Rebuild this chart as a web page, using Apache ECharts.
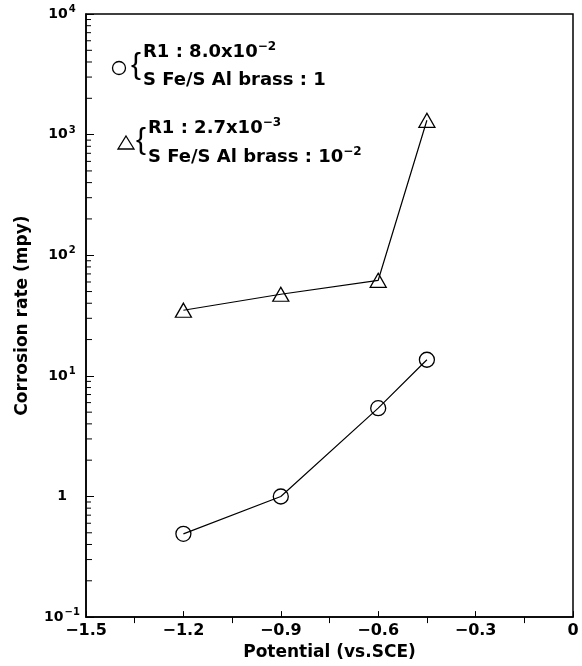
<!DOCTYPE html>
<html>
<head>
<meta charset="utf-8">
<script src="https://cdn.jsdelivr.net/npm/echarts@6/dist/echarts.min.js"></script>
<style>
html,body{margin:0;padding:0;background:#fff;}
#chart{width:582px;height:666px;}
</style>
</head>
<body>
<div id="chart"></div>
<script>
// Data
const potentialCircle = [-1.2, -0.9, -0.6, -0.45];
const rateCircle = [0.49, 1.0, 5.4, 13.6];        // R1 : 8.0x10^-2, S Fe/S Al brass : 1
const potentialTriangle = [-1.2, -0.9, -0.6, -0.45];
const rateTriangle = [35, 47.5, 62, 1315];        // R1 : 2.7x10^-3, S Fe/S Al brass : 10^-2
const xTickValues = [-1.5, -1.2, -0.9, -0.6, -0.3, 0];
const yDecades = [0.1, 1, 10, 100, 1000, 10000];

const FONT = 'DejaVu Sans';
const chart = echarts.init(document.getElementById('chart'), null, {renderer: 'canvas'});

function pair(xs, ys) { return xs.map((x, i) => [x, ys[i]]); }

function yLabel(v) {
  const e = Math.round(Math.log10(v));
  if (e === 0) return '1';
  return '10{sup|' + (e < 0 ? '\u2212' : '') + Math.abs(e) + '}';
}

const supRich = {sup: {fontSize: 10, fontFamily: FONT, fontWeight: 'bold', color: '#000', padding: [0, 0, 9, 1]}};
const legRich = {
  base: {fontSize: 18, fontFamily: FONT, fontWeight: 'bold', color: '#000'},
  sup: {fontSize: 12, fontFamily: FONT, fontWeight: 'bold', color: '#000', padding: [0, 0, 11, 0]}
};

// minor log ticks drawn through the y scale
function minorTicks(params, api) {
  const children = [];
  for (let k = 0; k < yDecades.length - 1; k++) {
    for (let m = 2; m <= 9; m++) {
      const v = yDecades[k] * m;
      const p = api.coord([-1.5, v]);
      const len = m <= 5 ? 6 : 5;
      children.push({type: 'line', shape: {x1: p[0], y1: p[1], x2: p[0] + len, y2: p[1]},
        style: {stroke: '#000', lineWidth: 1}});
    }
  }
  return {type: 'group', children};
}

const option = {
  animation: false,
  backgroundColor: '#fff',
  grid: {left: 86, right: 9, top: 14, bottom: 44, show: true, borderColor: '#000', borderWidth: 1.5, backgroundColor: 'transparent'},
  xAxis: {
    type: 'value', min: -1.5, max: 0, interval: 0.3,
    name: 'Potential (vs.SCE)', nameLocation: 'middle', nameGap: 17,
    nameTextStyle: {fontSize: 17, fontFamily: FONT, fontWeight: 'bold', color: '#000'},
    axisLine: {show: true, onZero: false, lineStyle: {color: '#000', width: 1.5}},
    axisTick: {show: true, inside: true, length: 6, lineStyle: {color: '#000', width: 1}},
    minorTick: {show: true, splitNumber: 2, length: -6, lineStyle: {color: '#000', width: 1}},
    splitLine: {show: false},
    axisLabel: {fontSize: 16, fontFamily: FONT, fontWeight: 'bold', color: '#000', margin: 6,
      formatter: v => (Math.abs(v) < 1e-9 ? '0' : v.toFixed(1).replace('-', '\u2212'))}
  },
  yAxis: {
    type: 'log', logBase: 10, min: 0.1, max: 10000,
    name: 'Corrosion rate (mpy)', nameLocation: 'middle', nameGap: 55,
    nameTextStyle: {fontSize: 17, fontFamily: FONT, fontWeight: 'bold', color: '#000'},
    axisLine: {show: true, onZero: false, lineStyle: {color: '#000', width: 1.5}},
    axisTick: {show: true, inside: true, length: 8, lineStyle: {color: '#000', width: 1}},
    splitLine: {show: false},
    axisLabel: {fontSize: 14, fontFamily: FONT, fontWeight: 'bold', color: '#000', margin: 24,
      align: 'center', formatter: yLabel, rich: supRich}
  },
  series: [
    {
      type: 'custom', coordinateSystem: 'cartesian2d', renderItem: minorTicks, data: [[-1.5, 1]], silent: true, clip: false, z: 1
    },
    {
      type: 'line', data: pair(potentialCircle, rateCircle),
      symbol: 'circle', symbolSize: 15,
      lineStyle: {color: '#000', width: 1.2},
      itemStyle: {color: 'transparent', borderColor: '#000', borderWidth: 1.3},
      z: 3
    },
    {
      type: 'line', data: pair(potentialTriangle, rateTriangle),
      symbol: 'triangle', symbolSize: [16, 14],
      lineStyle: {color: '#000', width: 1.2},
      itemStyle: {color: 'transparent', borderColor: '#000', borderWidth: 1.3},
      z: 3
    }
  ],
  graphic: [
    {type: 'circle', shape: {cx: 119, cy: 68, r: 6.5}, style: {fill: 'none', stroke: '#000', lineWidth: 1.3}},
    {type: 'text', x: 131, y: 66, style: {text: '{', fontSize: 30, fontFamily: 'Liberation Sans', fill: '#000', verticalAlign: 'middle'}},
    {type: 'text', x: 143, y: 52, style: {text: '{base|R1 : 8.0x10}{sup|\u22122}', rich: legRich, verticalAlign: 'middle'}},
    {type: 'text', x: 143, y: 80, style: {text: '{base|S Fe/S Al brass : 1}', rich: legRich, verticalAlign: 'middle'}},
    {type: 'polygon', shape: {points: [[126, 136], [134, 149], [118, 149]]}, style: {fill: 'none', stroke: '#000', lineWidth: 1.3}},
    {type: 'text', x: 136, y: 141, style: {text: '{', fontSize: 30, fontFamily: 'Liberation Sans', fill: '#000', verticalAlign: 'middle'}},
    {type: 'text', x: 148, y: 128, style: {text: '{base|R1 : 2.7x10}{sup|\u22123}', rich: legRich, verticalAlign: 'middle'}},
    {type: 'text', x: 148, y: 157, style: {text: '{base|S Fe/S Al brass : 10}{sup|\u22122}', rich: legRich, verticalAlign: 'middle'}}
  ]
};
chart.setOption(option);
</script>
</body>
</html>
